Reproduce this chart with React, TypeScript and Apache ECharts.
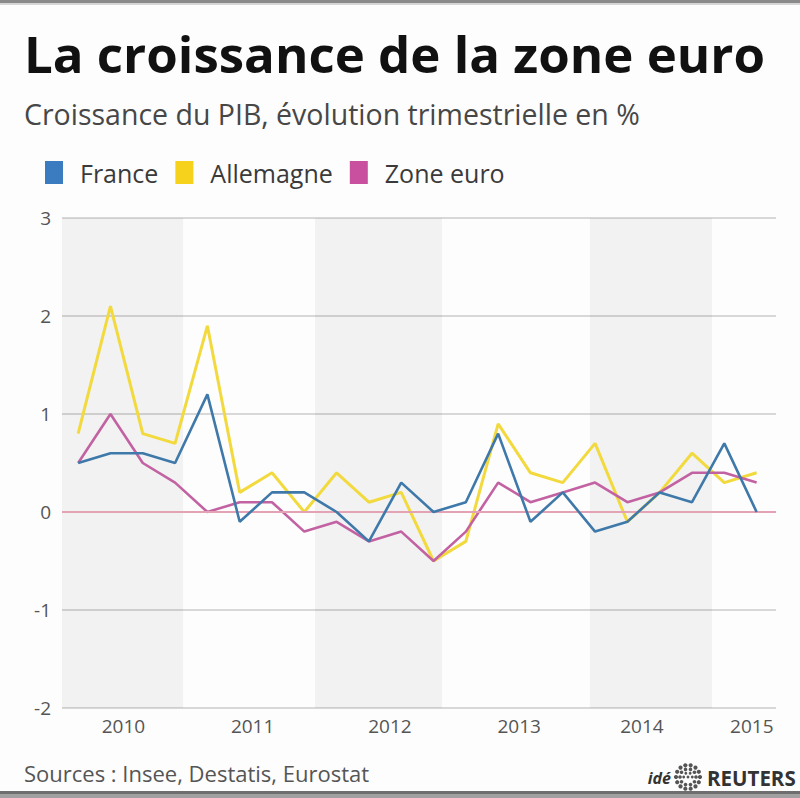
import React, { useEffect, useRef } from "react";
import * as echarts from "echarts";

// Quarterly GDP growth, % change on previous quarter
const quarters = [
  "T1 2010", "T2 2010", "T3 2010", "T4 2010",
  "T1 2011", "T2 2011", "T3 2011", "T4 2011",
  "T1 2012", "T2 2012", "T3 2012", "T4 2012",
  "T1 2013", "T2 2013", "T3 2013", "T4 2013",
  "T1 2014", "T2 2014", "T3 2014", "T4 2014",
  "T1 2015", "T2 2015",
];
const france = [0.5, 0.6, 0.6, 0.5, 1.2, -0.1, 0.2, 0.2, 0.0, -0.3, 0.3, 0.0, 0.1, 0.8, -0.1, 0.2, -0.2, -0.1, 0.2, 0.1, 0.7, 0.0];
const allemagne = [0.8, 2.1, 0.8, 0.7, 1.9, 0.2, 0.4, 0.0, 0.4, 0.1, 0.2, -0.5, -0.3, 0.9, 0.4, 0.3, 0.7, -0.1, 0.2, 0.6, 0.3, 0.4];
const zoneEuro = [0.5, 1.0, 0.5, 0.3, 0.0, 0.1, 0.1, -0.2, -0.1, -0.3, -0.2, -0.5, -0.2, 0.3, 0.1, 0.2, 0.3, 0.1, 0.2, 0.4, 0.4, 0.3];

// Year labels and where they sit on the quarter-index axis
const years = ["2010", "2011", "2012", "2013", "2014", "2015"];
const yearTicks = [1.4, 5.4, 9.65, 13.65, 17.45, 20.85];
// Shaded year bands (2010, 2012, 2014) in quarter-index units
const shadedBands: [number, number][] = [
  [-0.5, 3.25],
  [7.33, 11.26],
  [15.84, 19.62],
];
const yTicks = { min: -2, max: 3, step: 1 };

const FONT = "'Open Sans', 'Noto Sans', sans-serif";

function toPoints(values: number[]) {
  return values.map((v, i) => [i, v]);
}

function reutersDots() {
  const rings = [
    { r: 12, n: 14, s: 2.1 },
    { r: 8, n: 10, s: 1.8 },
    { r: 4.3, n: 6, s: 1.4 },
  ];
  const cx = 688;
  const cy = 777;
  const out: any[] = [];
  rings.forEach((ring) => {
    for (let k = 0; k < ring.n; k++) {
      const a = (k / ring.n) * Math.PI * 2;
      out.push({
        type: "circle",
        shape: { cx: cx + ring.r * Math.cos(a), cy: cy + ring.r * Math.sin(a), r: ring.s },
        style: { fill: "#555" },
        silent: true,
      });
    }
  });
  out.push({ type: "circle", shape: { cx, cy, r: 1.4 }, style: { fill: "#555" }, silent: true });
  return out;
}

export default function App() {
  const ref = useRef<HTMLDivElement>(null);

  useEffect(() => {
    if (!ref.current) return;
    const chart = echarts.init(ref.current, undefined, { renderer: "svg" });

    const option: any = {
      animation: false,
      backgroundColor: "#fdfdfd",
      textStyle: { fontFamily: FONT },
      grid: { left: 62, right: 24, top: 218, bottom: 90 },
      legend: {
        left: 45,
        top: 160,
        padding: 0,
        icon: "rect",
        itemWidth: 18,
        itemHeight: 23,
        itemGap: 17,
        selectedMode: false,
        data: ["France", "Allemagne", "Zone euro"],
        textStyle: { fontFamily: FONT, fontSize: 25, color: "#3a3a3a", padding: [0, 0, 0, 12] },
      },
      xAxis: {
        type: "value",
        min: -0.5,
        max: 21.6,
        axisLine: { show: false },
        axisTick: { show: false },
        splitLine: { show: false },
        axisLabel: {
          customValues: yearTicks,
          formatter: (v: number) => {
            let best = 0;
            yearTicks.forEach((t, i) => {
              if (Math.abs(t - v) < Math.abs(yearTicks[best] - v)) best = i;
            });
            return years[best];
          },
          fontFamily: FONT,
          fontSize: 19,
          color: "#555",
          margin: 8,
        },
      },
      yAxis: {
        type: "value",
        min: yTicks.min,
        max: yTicks.max,
        interval: yTicks.step,
        axisLine: { show: false },
        axisTick: { show: false },
        axisLabel: { fontFamily: FONT, fontSize: 19, color: "#555", margin: 11 },
        splitLine: { lineStyle: { color: "#d8d8d8", width: 2 } },
      },
      series: [
        {
          name: "bands",
          type: "line",
          data: [],
          z: 1,
          silent: true,
          markArea: {
            silent: true,
            itemStyle: { color: "rgba(0,0,0,0.045)" },
            data: shadedBands.map(([a, b]) => [{ xAxis: a }, { xAxis: b }]),
          },
          markLine: {
            silent: true,
            symbol: "none",
            label: { show: false },
            lineStyle: { color: "#e4a3b4", width: 2, type: "solid" },
            data: [{ yAxis: 0 }],
          },
        },
        {
          name: "Allemagne",
          type: "line",
          z: 3,
          data: toPoints(allemagne),
          showSymbol: false,
          itemStyle: { color: "#f7d21c" },
          lineStyle: { color: "#f2da3e", width: 3 },
        },
        {
          name: "Zone euro",
          type: "line",
          z: 4,
          data: toPoints(zoneEuro),
          showSymbol: false,
          itemStyle: { color: "#c94f9f" },
          lineStyle: { color: "#c262a2", width: 2.6 },
        },
        {
          name: "France",
          type: "line",
          z: 5,
          data: toPoints(france),
          showSymbol: false,
          itemStyle: { color: "#3a7cbf" },
          lineStyle: { color: "#3f79aa", width: 2.6 },
        },
      ],
      graphic: [
        { type: "rect", shape: { x: 0, y: 0, width: 800, height: 3 }, style: { fill: "#8a8a8a" }, silent: true },
        { type: "rect", shape: { x: 0, y: 3, width: 800, height: 2 }, style: { fill: "#d6d6d6" }, silent: true },
        { type: "rect", shape: { x: 0, y: 791, width: 800, height: 3 }, style: { fill: "#6e6e6e" }, silent: true },
        { type: "rect", shape: { x: 0, y: 794, width: 800, height: 4 }, style: { fill: "#a0a0a0" }, silent: true },
        {
          type: "text",
          silent: true,
          style: {
            text: "La croissance de la zone euro",
            x: 24,
            y: 53,
            verticalAlign: "middle",
            align: "left",
            font: `700 51px ${FONT}`,
            fill: "#111",
          },
        },
        {
          type: "text",
          silent: true,
          style: {
            text: "Croissance du PIB, évolution trimestrielle en %",
            x: 24,
            y: 114,
            verticalAlign: "middle",
            align: "left",
            font: `400 28.5px ${FONT}`,
            fill: "#474747",
          },
        },
        {
          type: "text",
          silent: true,
          style: {
            text: "Sources : Insee, Destatis, Eurostat",
            x: 24,
            y: 773,
            verticalAlign: "middle",
            align: "left",
            font: `400 22px ${FONT}`,
            fill: "#555",
          },
        },
        {
          type: "text",
          silent: true,
          style: {
            text: "idé",
            x: 671,
            y: 778,
            verticalAlign: "middle",
            align: "right",
            font: `italic 700 16px ${FONT}`,
            fill: "#333",
          },
        },
        ...reutersDots(),
        {
          type: "text",
          silent: true,
          style: {
            text: "REUTERS",
            x: 707,
            y: 778,
            verticalAlign: "middle",
            align: "left",
            font: `700 20.5px ${FONT}`,
            fill: "#333",
          },
        },
      ],
    };

    chart.setOption(option);
    return () => chart.dispose();
  }, []);

  return (
    <div
      ref={ref}
      style={{ position: "absolute", left: 0, top: 0, width: 800, height: 798 }}
      data-quarters={quarters.length}
    />
  );
}
